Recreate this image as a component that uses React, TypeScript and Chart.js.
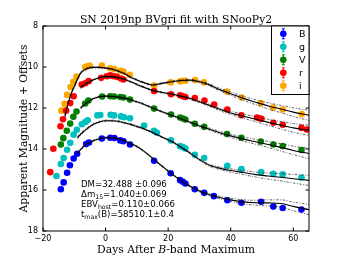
import { useEffect, useRef } from 'react';
import { Chart, registerables } from 'chart.js';

Chart.register(...registerables);

const X_TICKS = [-20, 0, 20, 40, 60];
const Y_TICKS = [8, 10, 12, 14, 16, 18];
const X_MIN = -20;
const X_MAX = 65;
const Y_MIN = 8;
const Y_MAX = 18;

const TITLE = 'SN 2019np BVgri fit with SNooPy2';
const Y_LABEL = 'Apparent Magnitude + Offsets';

// Observed photometry (days after B max, apparent magnitude + offset)
const B_DAYS = [-14.3, -13.4, -12.3, -11.4, -10.2, -9.1, -6.2, -5.3, -1.2, 1.5, 2.8, 4.7, 5.7, 7.8, 15.5, 20.8, 23.8, 24.7, 25.5, 28.5, 31.5, 34.6, 38.9, 43.4, 49.7, 53.6, 56.6, 62.6];
const B_MAG = [15.96, 15.63, 15.16, 14.79, 14.46, 14.23, 13.76, 13.68, 13.49, 13.45, 13.46, 13.58, 13.62, 13.78, 14.57, 15.18, 15.52, 15.6, 15.68, 15.96, 16.14, 16.3, 16.5, 16.62, 16.57, 16.81, 16.88, 16.95];

const G_DAYS = [-15.7, -14.3, -13.4, -12.3, -11.3, -10.2, -9.2, -7.6, -6.5, -5.7, -2.6, -1.7, 1.6, 2.7, 4.9, 5.9, 7.8, 12.3, 15.5, 16.4, 20.9, 23.8, 24.7, 25.5, 28.5, 31.5, 38.9, 43.4, 49.7, 53.6, 56.6, 62.6];
const G_MAG = [15.32, 14.73, 14.44, 14.04, 13.7, 13.3, 13.06, 12.79, 12.68, 12.6, 12.36, 12.34, 12.33, 12.36, 12.41, 12.45, 12.5, 12.85, 13.11, 13.21, 13.58, 13.86, 13.91, 13.97, 14.28, 14.44, 14.82, 14.98, 15.13, 15.21, 15.24, 15.4];

const V_DAYS = [-14.3, -13.5, -12.4, -11.3, -10.3, -9.3, -6.5, -5.5, -1.1, 1.5, 2.7, 4.7, 5.7, 7.8, 15.5, 20.9, 23.8, 24.7, 25.5, 28.5, 31.5, 38.8, 43.4, 49.6, 53.6, 56.6, 62.6];
const V_MAG = [13.78, 13.47, 13.11, 12.76, 12.43, 12.17, 11.78, 11.64, 11.44, 11.43, 11.44, 11.46, 11.49, 11.59, 12.03, 12.32, 12.46, 12.51, 12.56, 12.77, 12.92, 13.27, 13.45, 13.64, 13.78, 13.86, 14.05];

const R_DAYS = [-17.7, -16.7, -14.4, -13.6, -12.6, -11.3, -10.2, -7.6, -6.5, -5.4, -1.4, 0.4, 1.5, 2.6, 3.6, 4.9, 5.7, 15.5, 20.9, 23.8, 24.7, 25.5, 28.5, 31.6, 34.7, 38.9, 43.4, 48.4, 49.1, 49.8, 53.6, 56.6, 62.6, 64.3];
const R_MAG = [15.13, 13.99, 12.89, 12.55, 12.13, 11.76, 11.43, 10.85, 10.79, 10.69, 10.53, 10.45, 10.41, 10.45, 10.48, 10.56, 10.61, 11.17, 11.33, 11.38, 11.43, 11.46, 11.51, 11.64, 11.83, 12.07, 12.35, 12.46, 12.5, 12.53, 12.72, 12.82, 12.97, 13.05];

const I_DAYS = [-14.1, -13.1, -12.3, -11.2, -10.3, -9.3, -6.5, -5.7, -5.1, -1.2, 1.5, 2.8, 4.7, 5.7, 7.7, 15.5, 20.8, 23.8, 24.7, 25.5, 28.6, 31.4, 38.8, 43.5, 49.6, 53.5, 56.6, 62.7];
const I_MAG = [12.13, 11.8, 11.36, 10.98, 10.72, 10.46, 10.0, 9.96, 9.93, 9.93, 10.06, 10.1, 10.18, 10.22, 10.38, 10.9, 10.75, 10.7, 10.67, 10.67, 10.64, 10.75, 11.2, 11.49, 11.76, 11.98, 12.07, 12.3];

// SNooPy model curves sampled on a common day grid (null = not plotted)
const MODEL_DAYS = [-13, -12, -11, -10, -9, -8, -6, -4, -2, 0, 2, 4, 6, 8, 10, 12, 15, 18, 21, 24, 27, 30, 33, 36, 40, 44, 48, 52, 56, 60, 65];
const B_MODEL = [null, null, null, null, 14.22, 14.03, 13.75, 13.6, 13.5, 13.45, 13.45, 13.5, 13.6, 13.74, 13.88, 14.08, 14.45, 14.83, 15.2, 15.52, 15.82, 16.05, 16.22, 16.35, 16.48, 16.58, 16.62, 16.63, 16.66, 16.8, 16.96];
const G_MODEL = [null, null, null, null, 13.45, 13.28, 13.02, 12.8, 12.68, 12.62, 12.62, 12.65, 12.72, 12.8, 12.9, 13.0, 13.2, 13.42, 13.62, 13.9, 14.2, 14.52, 14.78, 14.92, 15.05, 15.15, 15.25, 15.32, 15.38, 15.45, 15.53];
const V_MODEL = [null, null, null, null, null, 12.0, 11.75, 11.55, 11.45, 11.42, 11.44, 11.47, 11.52, 11.6, 11.7, 11.8, 12.0, 12.18, 12.35, 12.52, 12.7, 12.88, 13.02, 13.18, 13.36, 13.52, 13.65, 13.78, 13.92, 14.07, 14.22];
const R_MODEL = [null, null, null, null, null, 11.0, 10.8, 10.63, 10.52, 10.47, 10.47, 10.52, 10.6, 10.72, 10.85, 10.97, 11.14, 11.24, 11.32, 11.42, 11.54, 11.7, 11.86, 12.04, 12.24, 12.4, 12.55, 12.7, 12.84, 12.97, 13.09];
const I_MODEL = [12.4, 11.8, 11.3, 10.95, 10.6, 10.3, 10.08, 10.02, 10.02, 10.05, 10.1, 10.2, 10.32, 10.5, 10.63, 10.75, 10.88, 10.8, 10.72, 10.66, 10.64, 10.72, 10.86, 11.07, 11.3, 11.53, 11.72, 11.9, 12.05, 12.2, 12.36];
// half-width of the model uncertainty envelope on the same grid
const ENV_ERR = [0.06, 0.05, 0.05, 0.05, 0.05, 0.05, 0.04, 0.03, 0.03, 0.03, 0.03, 0.03, 0.03, 0.03, 0.03, 0.03, 0.03, 0.03, 0.03, 0.03, 0.04, 0.04, 0.05, 0.06, 0.08, 0.1, 0.12, 0.15, 0.18, 0.21, 0.25];

const BAND_LABELS = ['B', 'g', 'V', 'r', 'i'];
const BAND_COLORS = ['#0000ff', '#00bfbf', '#008000', '#ff0000', '#ffa500'];
const BAND_DAYS = [B_DAYS, G_DAYS, V_DAYS, R_DAYS, I_DAYS];
const BAND_MAGS = [B_MAG, G_MAG, V_MAG, R_MAG, I_MAG];
const BAND_MODELS = [B_MODEL, G_MODEL, V_MODEL, R_MODEL, I_MODEL];

const FIT_LINES = [
  [{ t: 'DM=32.488 \u00b10.096' }],
  [{ t: '\u0394m' }, { t: '15', sub: true }, { t: '=1.040\u00b10.069' }],
  [{ t: 'EBV' }, { t: 'host', sub: true }, { t: '=0.110\u00b10.066' }],
  [{ t: 't' }, { t: 'max', sub: true }, { t: '(B)=58510.1\u00b10.4' }],
];

const SERIF = '"DejaVu Serif", serif';
const SANS = '"DejaVu Sans", sans-serif';

function pts(xs: number[], ys: (number | null)[], off = 0) {
  const out: { x: number; y: number }[] = [];
  xs.forEach((x, i) => {
    const y = ys[i];
    if (y !== null && y !== undefined) out.push({ x, y: y + off * (ENV_ERR[i] ?? 0) });
  });
  return out;
}

const decorPlugin = {
  id: 'decor',
  afterDraw(chart: any) {
    const { ctx, chartArea: a } = chart;
    const xs = chart.scales.x;
    const ys = chart.scales.y;
    ctx.save();
    // frame
    ctx.strokeStyle = '#000';
    ctx.lineWidth = 1;
    ctx.strokeRect(a.left, a.top, a.right - a.left, a.bottom - a.top);
    // inward ticks
    const TL = 3.5;
    ctx.beginPath();
    X_TICKS.forEach((v) => {
      const px = xs.getPixelForValue(v);
      ctx.moveTo(px, a.bottom);
      ctx.lineTo(px, a.bottom - TL);
      ctx.moveTo(px, a.top);
      ctx.lineTo(px, a.top + TL);
    });
    Y_TICKS.forEach((v) => {
      const py = ys.getPixelForValue(v);
      ctx.moveTo(a.left, py);
      ctx.lineTo(a.left + TL, py);
      ctx.moveTo(a.right, py);
      ctx.lineTo(a.right - TL, py);
    });
    ctx.stroke();

    const cx = (a.left + a.right) / 2;
    ctx.fillStyle = '#000';
    // title
    ctx.font = `10.8px ${SERIF}`;
    ctx.textAlign = 'center';
    ctx.textBaseline = 'alphabetic';
    ctx.fillText(TITLE, cx, 22.8);
    // x label with italic B
    const p1 = 'Days After ';
    const p2 = 'B';
    const p3 = '-band Maximum';
    ctx.font = `10.8px ${SERIF}`;
    const w1 = ctx.measureText(p1).width;
    const w3 = ctx.measureText(p3).width;
    ctx.font = `italic 10.8px ${SERIF}`;
    const w2 = ctx.measureText(p2).width;
    let x0 = cx - (w1 + w2 + w3) / 2;
    ctx.textAlign = 'left';
    ctx.font = `10.8px ${SERIF}`;
    ctx.fillText(p1, x0, 252.5);
    ctx.font = `italic 10.8px ${SERIF}`;
    ctx.fillText(p2, x0 + w1, 252.5);
    ctx.font = `10.8px ${SERIF}`;
    ctx.fillText(p3, x0 + w1 + w2, 252.5);
    // y label
    ctx.save();
    ctx.translate(27, (a.top + a.bottom) / 2);
    ctx.rotate(-Math.PI / 2);
    ctx.textAlign = 'center';
    ctx.fillText(Y_LABEL, 0, 0);
    ctx.restore();

    // fit results
    ctx.textAlign = 'left';
    FIT_LINES.forEach((parts, li) => {
      let x = 81;
      const y = 186.7 + li * 10.1;
      parts.forEach((p: any) => {
        if (p.sub) {
          ctx.font = `6.2px ${SANS}`;
          ctx.fillText(p.t, x, y + 2.2);
        } else {
          ctx.font = `8.6px ${SANS}`;
          ctx.fillText(p.t, x, y);
        }
        x += ctx.measureText(p.t).width;
      });
    });

    // legend
    const lw = 37.5;
    const lh = 68.5;
    const lx = a.right - lw;
    const ly = a.top;
    ctx.fillStyle = '#fff';
    ctx.fillRect(lx, ly, lw, lh);
    ctx.strokeStyle = '#000';
    ctx.lineWidth = 1;
    ctx.strokeRect(lx, ly, lw, lh);
    BAND_LABELS.forEach((lab, i) => {
      const yy = ly + 7.8 + i * 13;
      const mx = lx + 11.8;
      ctx.strokeStyle = BAND_COLORS[i];
      ctx.lineWidth = 1;
      ctx.beginPath();
      ctx.moveTo(mx, yy - 5);
      ctx.lineTo(mx, yy + 5);
      ctx.moveTo(mx - 1.5, yy - 5);
      ctx.lineTo(mx + 1.5, yy - 5);
      ctx.moveTo(mx - 1.5, yy + 5);
      ctx.lineTo(mx + 1.5, yy + 5);
      ctx.stroke();
      ctx.fillStyle = BAND_COLORS[i];
      ctx.beginPath();
      ctx.arc(mx, yy, 3.3, 0, Math.PI * 2);
      ctx.fill();
      ctx.fillStyle = '#000';
      ctx.font = `9.5px ${SANS}`;
      ctx.textBaseline = 'middle';
      ctx.textAlign = 'left';
      ctx.fillText(lab, lx + 27.5, yy + 0.5);
    });
    ctx.restore();
  },
};

export default function App() {
  const ref = useRef<HTMLCanvasElement | null>(null);
  useEffect(() => {
    if (!ref.current) return;
    const datasets: any[] = [];
    BAND_LABELS.forEach((lab, i) => {
      datasets.push({
        type: 'scatter',
        label: lab,
        data: pts(BAND_DAYS[i], BAND_MAGS[i]),
        backgroundColor: BAND_COLORS[i],
        borderWidth: 0,
        pointRadius: 3.3,
        pointHoverRadius: 3.3,
        order: 3,
      });
      datasets.push({
        type: 'scatter',
        label: lab + ' model',
        data: pts(MODEL_DAYS, BAND_MODELS[i]),
        showLine: true,
        borderColor: '#000',
        borderWidth: 1.1,
        pointRadius: 0,
        cubicInterpolationMode: 'monotone',
        order: 0,
      });
      [-1, 1].forEach((s) => {
        datasets.push({
          type: 'scatter',
          label: lab + ' env',
          data: pts(MODEL_DAYS, BAND_MODELS[i], s),
          showLine: true,
          borderColor: '#222',
          borderWidth: 0.7,
          borderDash: [2.5, 1.5, 1, 1.5],
          pointRadius: 0,
          cubicInterpolationMode: 'monotone',
          order: 1,
        });
      });
    });
    const chart = new Chart(ref.current, {
      type: 'scatter',
      data: { datasets },
      options: {
        animation: false,
        responsive: false,
        maintainAspectRatio: false,
        events: [],
        layout: { padding: { top: 26, right: 35, left: 0, bottom: 0 } },
        plugins: { legend: { display: false }, tooltip: { enabled: false }, title: { display: false } },
        scales: {
          x: {
            type: 'linear',
            min: X_MIN,
            max: X_MAX,
            grid: { display: false, drawTicks: false },
            border: { display: false },
            afterFit: (s: any) => { s.height = 27; },
            afterBuildTicks: (s: any) => { s.ticks = X_TICKS.map((v) => ({ value: v })); },
            ticks: {
              padding: 3,
              color: '#000',
              font: { family: SANS, size: 8 },
              maxRotation: 0,
              callback: (v: any) => (v < 0 ? '\u2212' + Math.abs(v) : String(v)),
            },
          },
          y: {
            type: 'linear',
            reverse: true,
            min: Y_MIN,
            max: Y_MAX,
            grid: { display: false, drawTicks: false },
            border: { display: false },
            afterFit: (s: any) => { s.width = 43; },
            afterBuildTicks: (s: any) => { s.ticks = Y_TICKS.map((v) => ({ value: v })); },
            ticks: {
              padding: 5,
              color: '#000',
              font: { family: SANS, size: 8 },
              callback: (v: any) => String(v),
            },
          },
        },
      },
      plugins: [decorPlugin],
    });
    return () => chart.destroy();
  }, []);
  return (
    <div style={{ position: 'absolute', left: 0, top: 0, width: 344, height: 258, background: '#fff' }}>
      <canvas ref={ref} width={344} height={258} style={{ display: 'block' }} />
    </div>
  );
}
